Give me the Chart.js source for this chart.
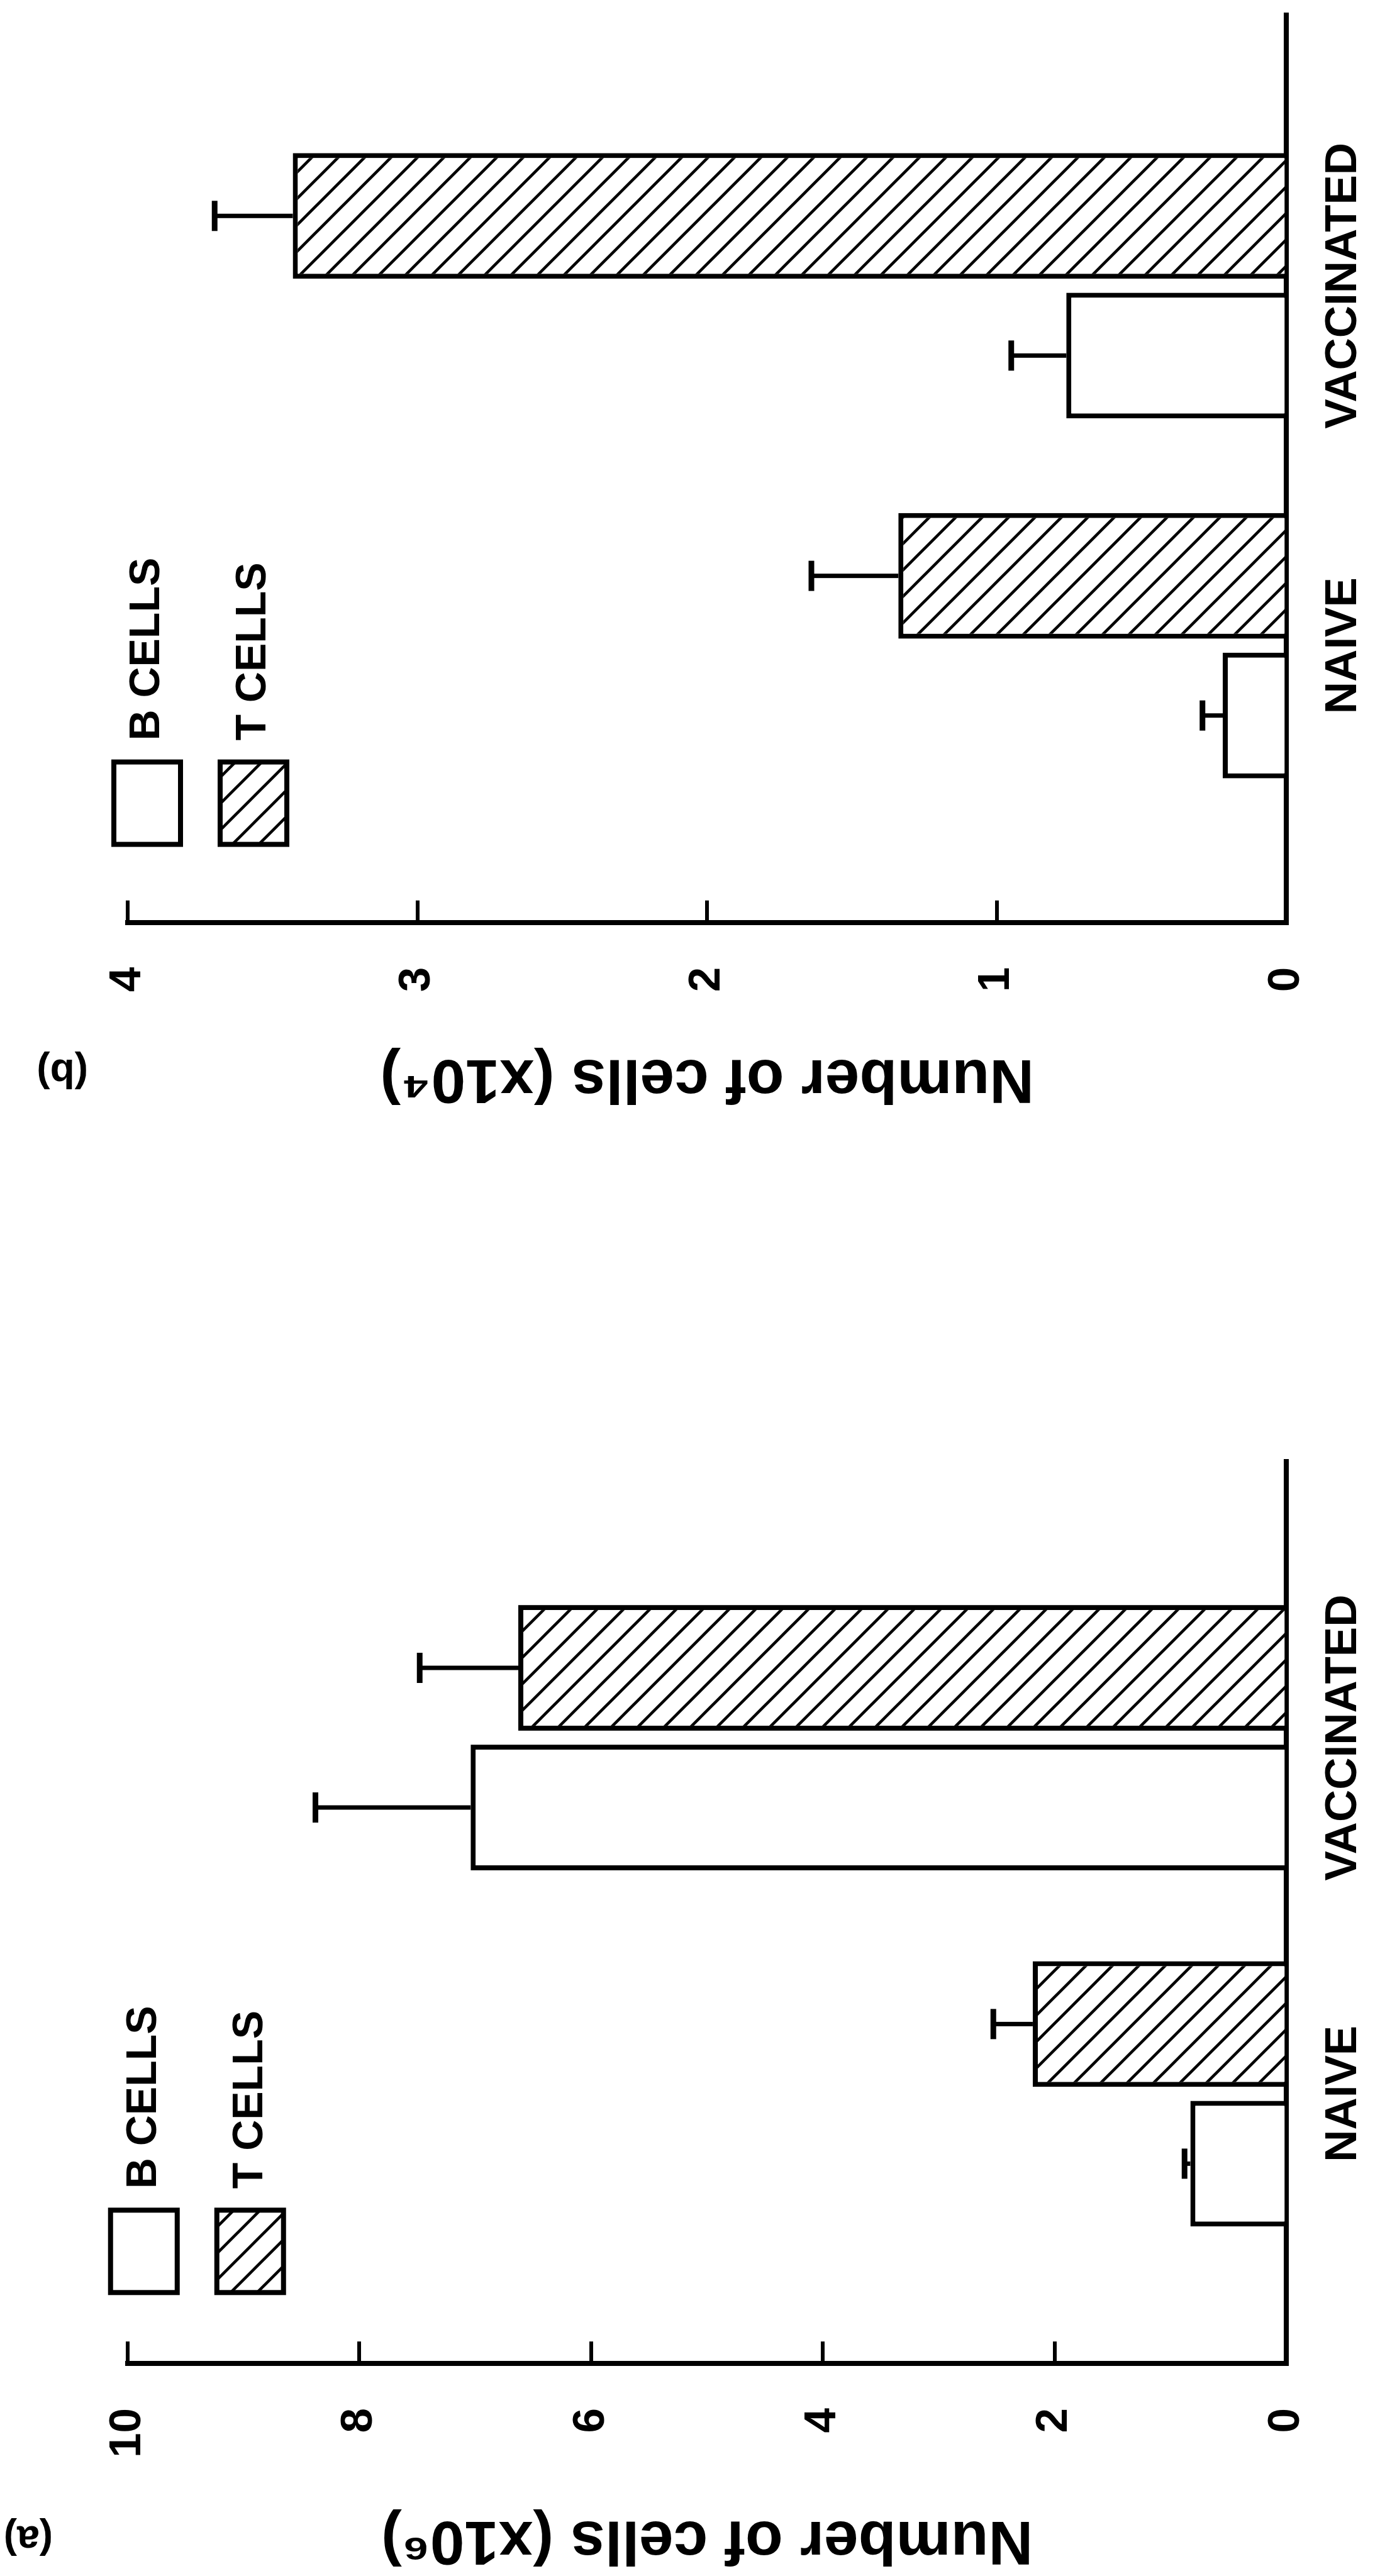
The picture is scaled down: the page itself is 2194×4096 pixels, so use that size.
<!DOCTYPE html>
<html>
<head>
<meta charset="utf-8">
<title>Number of cells</title>
<script src="https://cdn.jsdelivr.net/npm/chart.js@4.4.1/dist/chart.umd.min.js"></script>
<style>
  html, body { margin: 0; padding: 0; background: #fff; overflow: hidden; }
  /* the figure is drawn upright, then turned a quarter turn like the printed page */
  #figure {
    position: absolute; left: 0; top: 0;
    width: 4096px; height: 2194px;
    transform-origin: 0 0;
    transform: translate(0, 4096px) rotate(-90deg);
  }
  #figure canvas { position: absolute; top: 0; }
</style>
</head>
<body>
<div id="figure">
  <canvas id="panelA" width="2048" height="2194" style="left:0"></canvas>
  <canvas id="panelB" width="2048" height="2194" style="left:2048px"></canvas>
</div>
<script>
const categories = ["NAIVE", "VACCINATED"];
const seriesNames = ["B CELLS", "T CELLS"];

// (a) spleen cells, x10^6
const bCellsA = [0.83, 7.04];
const tCellsA = [2.19, 6.63];
const bCellsErrA = [0.05, 1.34];
const tCellsErrA = [0.34, 0.85];
const ticksA = [0, 2, 4, 6, 8, 10];

// (b) x10^4
const bCellsB = [0.22, 0.76];
const tCellsB = [1.34, 3.43];
const bCellsErrB = [0.07, 0.19];
const tCellsErrB = [0.30, 0.27];
const ticksB = [0, 1, 2, 3, 4];

const family = "'Liberation Sans', Arial, Helvetica, sans-serif";
Chart.defaults.font.family = family;
Chart.defaults.color = "#000";

// diagonal hatch for the T cell bars
function makeHatch() {
  const size = 42;
  const tile = document.createElement("canvas");
  tile.width = size;
  tile.height = size;
  const c = tile.getContext("2d");
  c.fillStyle = "#fff";
  c.fillRect(0, 0, size, size);
  c.strokeStyle = "#000";
  c.lineWidth = 4.5;
  for (let k = -1; k <= 1; k++) {
    c.beginPath();
    c.moveTo(-size, -size + k * size);
    c.lineTo(2 * size, 2 * size + k * size);
    c.stroke();
  }
  return c.createPattern(tile, "repeat");
}
const hatch = makeHatch();

const toPoints = (values) => values.map((v, i) => ({ x: i, y: v }));

// mean + SEM whiskers, one cap on top
const errorBars = {
  id: "errorBars",
  afterDatasetsDraw(chart, args, opts) {
    const { ctx } = chart;
    const yScale = chart.scales.y;
    ctx.save();
    ctx.strokeStyle = "#000";
    chart.data.datasets.forEach((ds, d) => {
      const meta = chart.getDatasetMeta(d);
      meta.data.forEach((bar, i) => {
        const top = yScale.getPixelForValue(ds.data[i].y + ds.errors[i]);
        ctx.lineWidth = opts.width;
        ctx.beginPath();
        ctx.moveTo(bar.x, bar.y);
        ctx.lineTo(bar.x, top);
        ctx.stroke();
        ctx.lineWidth = opts.capWidth;
        ctx.beginPath();
        ctx.moveTo(bar.x - opts.cap / 2, top);
        ctx.lineTo(bar.x + opts.cap / 2, top);
        ctx.stroke();
      });
    });
    ctx.restore();
  },
};

// legend sits in the plot corner, a little above the top tick
const legendShift = {
  id: "legendShift",
  afterLayout(chart, args, opts) {
    const lg = chart.legend;
    const pad = lg.options.labels.padding;
    lg.left = chart.chartArea.left + opts.dx - pad;
    lg.top = chart.chartArea.top + opts.dy - pad;
  },
};

// the (a) / (b) tag, in line with the axis title
const panelTag = {
  id: "panelTag",
  afterDraw(chart, args, opts) {
    const { ctx } = chart;
    ctx.save();
    ctx.translate(opts.x, opts.y);
    ctx.rotate(-Math.PI / 2);
    ctx.font = "bold 64px " + family;
    ctx.fillStyle = "#000";
    ctx.textAlign = "left";
    ctx.textBaseline = "middle";
    ctx.fillText(opts.text, 0, 0);
    ctx.restore();
  },
};

function makePanel(canvasId, p) {
  return new Chart(document.getElementById(canvasId), {
    type: "bar",
    data: {
      datasets: [
        {
          label: seriesNames[0],
          data: toPoints(p.bCells),
          errors: p.bErr,
          backgroundColor: "#fff",
          borderColor: "#000",
          borderWidth: 8,
          categoryPercentage: p.groupWidth,
          barPercentage: 0.9,
        },
        {
          label: seriesNames[1],
          data: toPoints(p.tCells),
          errors: p.tErr,
          backgroundColor: hatch,
          borderColor: "#000",
          borderWidth: 8,
          categoryPercentage: p.groupWidth,
          barPercentage: 0.9,
        },
      ],
    },
    options: {
      responsive: false,
      animation: false,
      events: [],
      layout: { padding: { left: p.padLeft, right: p.padRight, top: 203, bottom: 0 } },
      plugins: {
        tooltip: { enabled: false },
        legend: {
          position: "chartArea",
          align: "start",
          labels: {
            boxWidth: 131,
            boxHeight: 106,
            padding: 63,
            color: "#000",
            font: { size: 68, weight: "bold" },
          },
        },
        legendShift: { dx: p.legendDx, dy: p.legendDy },
        panelTag: { text: p.tag, x: p.tagX, y: p.tagY },
        errorBars: { width: 7, capWidth: 9, cap: 48 },
      },
      scales: {
        x: {
          type: "linear",
          offset: false,
          min: p.xMin,
          max: p.xMax,
          afterBuildTicks: (s) => { s.ticks = categories.map((c, i) => ({ value: i })); },
          afterFit: (s) => { s.height = 122.2; },
          grid: { display: false, offset: false },
          border: { display: true, color: "#000", width: 8 },
          ticks: {
            callback: (v) => categories[v],
            padding: 40,
            autoSkip: false,
            maxRotation: 0,
            font: { size: 71, weight: "bold" },
          },
        },
        y: {
          min: 0,
          max: p.yMax,
          afterBuildTicks: (s) => { s.ticks = p.ticks.map((v) => ({ value: v })); },
          afterFit: (s) => { s.width = p.yWidth; },
          grid: {
            drawOnChartArea: false,
            drawTicks: true,
            tickLength: -35,
            color: "#000",
            lineWidth: 6,
          },
          border: { display: true, color: "#000", width: 8 },
          ticks: { padding: 106, font: { size: 71, weight: "bold" } },
          title: {
            display: true,
            text: p.title,
            padding: 0,
            font: { size: 98, weight: "bold", lineHeight: 1.2 },
          },
        },
      },
    },
    plugins: [errorBars, legendShift, panelTag],
  });
}

makePanel("panelA", {
  bCells: bCellsA, tCells: tCellsA, bErr: bCellsErrA, tErr: tCellsErrA,
  ticks: ticksA, yMax: 10, title: "Number of cells (x10⁶)", tag: "(a)",
  xMin: -0.757, xMax: 1.781, groupWidth: 0.784,
  padLeft: 0, padRight: 272.7, yWidth: 337.9,
  legendDx: 112.8, legendDy: -27.2,
  tagX: 61, tagY: 84,
});

makePanel("panelB", {
  bCells: bCellsB, tCells: tCellsB, bErr: bCellsErrB, tErr: tCellsErrB,
  ticks: ticksB, yMax: 4, title: "Number of cells (x10⁴)", tag: "(b)",
  xMin: -0.769, xMax: 1.758, groupWidth: 0.776,
  padLeft: 276.2, padRight: 20.5, yWidth: 305,
  legendDx: 124.2, legendDy: -22.1,
  tagX: 345.7, tagY: 140,
});
</script>
</body>
</html>
